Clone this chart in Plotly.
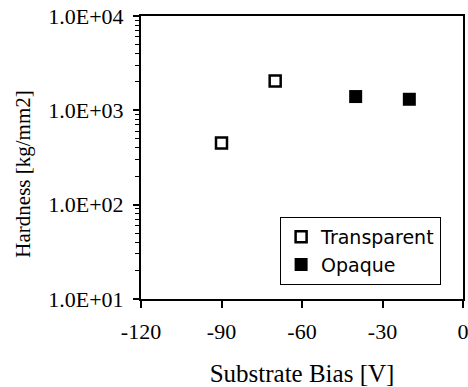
import plotly.graph_objects as go

# Data
transparent_bias = [-90, -70]
transparent_hardness = [450, 2050]
opaque_bias = [-40, -20]
opaque_hardness = [1400, 1310]

x_ticks = [-120, -90, -60, -30, 0]
y_ticks = [10, 100, 1000, 10000]
y_tick_labels = ["1.0E+01", "1.0E+02", "1.0E+03", "1.0E+04"]

serif = "Liberation Serif, Times New Roman, serif"

fig = go.Figure()
fig.add_trace(go.Scatter(
    x=transparent_bias, y=transparent_hardness, mode="markers", name="Transparent",
    legendgroup="t",
    marker=dict(symbol="square-open", size=11, color="black", line=dict(width=2.5, color="black")),
))
fig.add_trace(go.Scatter(
    x=opaque_bias, y=opaque_hardness, mode="markers", name="Opaque",
    legendgroup="o",
    marker=dict(symbol="square", size=13, color="black"),
))

fig.update_layout(
    width=468, height=387,
    margin=dict(l=141, r=5, t=16, b=88),
    paper_bgcolor="white", plot_bgcolor="white",
    showlegend=True,
    legend=dict(
        x=0.432, y=0.29, xanchor="left", yanchor="top",
        bordercolor="black", borderwidth=1, bgcolor="white",
        font=dict(family="DejaVu Sans", size=19, color="black"),
        tracegroupgap=0, itemwidth=30,
    ),
    annotations=[dict(
        text="Hardness [kg/mm2]", textangle=-90,
        xref="paper", yref="paper", x=-0.366, y=0.44,
        xanchor="center", yanchor="middle", showarrow=False,
        font=dict(family=serif, size=21, color="black"),
    )],
)

fig.update_xaxes(
    range=[-120, 0], tickvals=x_ticks, ticktext=[str(v) for v in x_ticks],
    showgrid=False, zeroline=False, automargin=False, ticklabeloverflow="allow",
    showline=True, linecolor="black", linewidth=2, mirror=True,
    ticks="outside", ticklen=7, tickwidth=1.5, tickcolor="black",
    ticklabelstandoff=5,
    tickfont=dict(family=serif, size=22, color="black"),
    title=dict(text="Substrate Bias [V]", font=dict(family=serif, size=25, color="black"), standoff=25),
)
fig.update_yaxes(
    type="log", range=[1, 4], tickvals=y_ticks, ticktext=y_tick_labels,
    showgrid=False, zeroline=False, automargin=False, ticklabeloverflow="allow",
    showline=True, linecolor="black", linewidth=2, mirror=True,
    ticks="outside", ticklen=6, tickwidth=1.5, tickcolor="black",
    ticklabelstandoff=5,
    minor=dict(ticks="outside", ticklen=4, tickwidth=1, tickcolor="black", dtick="D1", showgrid=False),
    tickfont=dict(family=serif, size=22, color="black"),
)

fig.write_html("out.html", config={"displayModeBar": False},
               post_script="document.body.style.margin='0';")
